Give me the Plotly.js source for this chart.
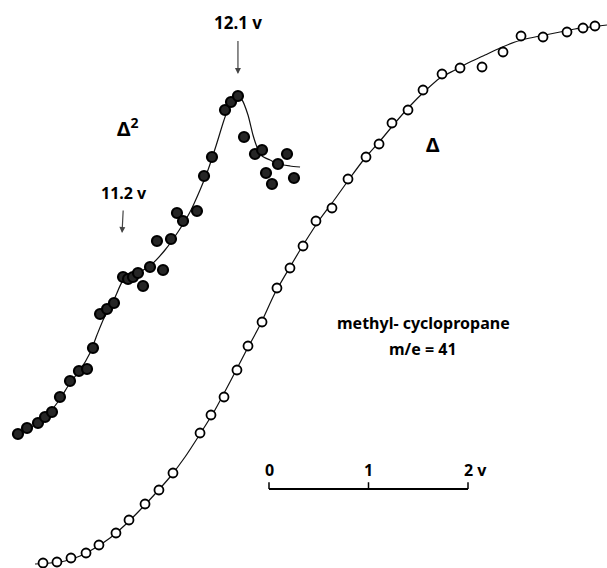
<!DOCTYPE html>
<html><head><meta charset="utf-8">
<script src="https://cdn.plot.ly/plotly-3.0.1.min.js"></script>
<style>html,body{margin:0;padding:0;background:#fff}#plot{width:607px;height:568px}</style>
</head><body><div id="plot"></div>
<script>
// x: energy relative to scale-bar zero (volts); y: signal (arbitrary units)
const d2X = [-2.523,-2.432,-2.322,-2.251,-2.181,-2.101,-2.000,-1.910,-1.829,-1.769,-1.698,-1.628,-1.558,-1.467,-1.417,-1.367,-1.317,-1.266,-1.196,-1.065,-1.126,-0.985,-0.925,-0.864,-0.724,-0.653,-0.573,-0.442,-0.382,-0.312,-0.251,-0.141,-0.070,-0.030,0.030,0.090,0.181,0.251];
const d2Y = [13.6,14.2,14.7,15.3,15.8,17.3,18.9,19.9,20.1,22.2,25.6,26.1,26.7,29.3,29.1,29.3,29.7,28.4,30.3,30.0,32.9,33.1,35.7,34.9,35.9,39.4,41.3,46.0,46.8,47.4,43.3,41.6,42.0,39.7,38.6,40.6,41.6,39.2];
const d2FitX = [-2.503,-2.402,-2.302,-2.201,-2.101,-2.000,-1.899,-1.799,-1.729,-1.658,-1.588,-1.528,-1.477,-1.417,-1.296,-1.176,-1.045,-0.915,-0.794,-0.693,-0.613,-0.533,-0.452,-0.392,-0.332,-0.271,-0.211,-0.161,-0.121,-0.070,0.010,0.090,0.211,0.312];
const d2FitY = [13.6,14.2,14.9,15.8,17.1,18.7,20.0,21.7,23.5,25.2,26.4,27.7,28.8,29.2,29.8,30.6,32.0,33.8,35.8,38.0,40.0,42.4,45.0,46.6,47.4,47.0,45.5,43.5,42.3,41.4,41.0,40.6,40.4,40.3];
const d1X = [-2.271,-2.131,-1.990,-1.839,-1.709,-1.538,-1.407,-1.246,-1.106,-0.965,-0.693,-0.583,-0.452,-0.322,-0.211,-0.070,0.080,0.211,0.342,0.472,0.633,0.794,0.975,1.106,1.236,1.397,1.548,1.739,1.920,2.141,2.352,2.533,2.754,2.995,3.156,3.276];
const d1Y = [0.7,0.8,1.2,1.7,2.5,3.7,5.0,6.6,8.0,9.7,13.7,15.5,17.3,20.0,22.4,24.8,28.2,30.2,32.4,34.9,36.2,39.1,41.3,42.6,44.7,46.0,48.0,49.6,50.2,50.3,51.8,53.4,53.3,53.8,54.2,54.4];
const d1FitX = [-2.352,-2.201,-2.050,-1.899,-1.749,-1.598,-1.447,-1.296,-1.146,-0.995,-0.844,-0.693,-0.543,-0.392,-0.241,-0.090,0.060,0.211,0.362,0.513,0.663,0.814,0.965,1.116,1.266,1.417,1.568,1.719,1.869,2.020,2.171,2.322,2.472,2.623,2.774,2.925,3.075,3.226,3.397];
const d1FitY = [0.6,0.7,0.9,1.4,2.2,3.2,4.5,6.0,7.6,9.3,11.3,13.6,16.0,18.8,21.7,24.5,27.7,30.3,32.8,35.1,37.1,39.2,41.2,42.9,44.7,46.4,47.9,49.2,50.0,50.8,51.5,52.2,52.8,53.2,53.5,53.8,54.1,54.3,54.5];
const peakLabel = "12.1 v", peakX = -0.312, peakY = 47.4;
const onsetLabel = "11.2 v", onsetX = -1.477, onsetY = 33.7;
const scaleTicks = [0, 1, 2];
const scaleLabels = ["0", "1", "2 v"];

const F = "Noto Sans, DejaVu Sans, sans-serif";
const traces = [
  {x: d2FitX, y: d2FitY, mode: 'lines', line: {color: '#111', width: 1.2, shape: 'spline', smoothing: 0.6}, hoverinfo: 'skip'},
  {x: d1FitX, y: d1FitY, mode: 'lines', line: {color: '#111', width: 1.2, shape: 'spline', smoothing: 0.6}, hoverinfo: 'skip'},
  {x: d2X, y: d2Y, mode: 'markers', marker: {symbol: 'circle', size: 10, color: '#262626', line: {color: '#000', width: 2.2}}},
  {x: d1X, y: d1Y, mode: 'markers', marker: {symbol: 'circle', size: 9, color: '#fff', line: {color: '#000', width: 1.8}}}
];
const barY = 0.139; // paper fraction
const shapes = [
  {type: 'line', xref: 'x', yref: 'paper', x0: scaleTicks[0], x1: scaleTicks[2], y0: barY, y1: barY, line: {color: '#000', width: 2}}
];
scaleTicks.forEach(t => shapes.push({type: 'line', xref: 'x', yref: 'paper', x0: t, x1: t, y0: barY, y1: barY + 0.012, line: {color: '#000', width: 1.5}}));
const tf = (s) => ({family: F, size: s, color: '#000', weight: 'bold'});
const annotations = [
  {x: peakX, y: peakY + 2.2, xref: 'x', yref: 'y', text: peakLabel, showarrow: true, ax: 0, ay: -52, arrowhead: 2, arrowsize: 1, arrowwidth: 1.2, startstandoff: 6, font: tf(17)},
  {x: onsetX, y: onsetY, xref: 'x', yref: 'y', text: onsetLabel, showarrow: true, ax: 2, ay: -40, arrowhead: 2, arrowsize: 1, arrowwidth: 1.2, startstandoff: 5, font: tf(16)},
  {x: -1.42, y: 44.3, xref: 'x', yref: 'y', text: 'Δ<sup>2</sup>', showarrow: false, font: tf(20)},
  {x: 1.65, y: 42.6, xref: 'x', yref: 'y', text: 'Δ', showarrow: false, font: tf(20)},
  {x: 1.55, y: 24.7, xref: 'x', yref: 'y', text: 'methyl- cyclopropane', showarrow: false, font: tf(16)},
  {x: 1.55, y: 22.1, xref: 'x', yref: 'y', text: 'm/e = 41', showarrow: false, font: tf(16)}
];
scaleTicks.forEach((t, i) => annotations.push({x: t, y: barY + 0.01, xref: 'x', yref: 'paper', text: scaleLabels[i], showarrow: false, xanchor: i === 2 ? 'left' : 'center', xshift: i === 2 ? -6 : 0, yanchor: 'bottom', font: tf(16)}));

const layout = {
  width: 607, height: 568, margin: {l: 0, r: 0, t: 0, b: 0},
  paper_bgcolor: '#fff', plot_bgcolor: '#fff', showlegend: false,
  xaxis: {range: [-2.7035, 3.397], visible: false, fixedrange: true},
  yaxis: {range: [0.2, 57.0], visible: false, fixedrange: true},
  shapes: shapes, annotations: annotations
};
Plotly.newPlot('plot', traces, layout, {displayModeBar: false, staticPlot: true});
</script></body></html>
